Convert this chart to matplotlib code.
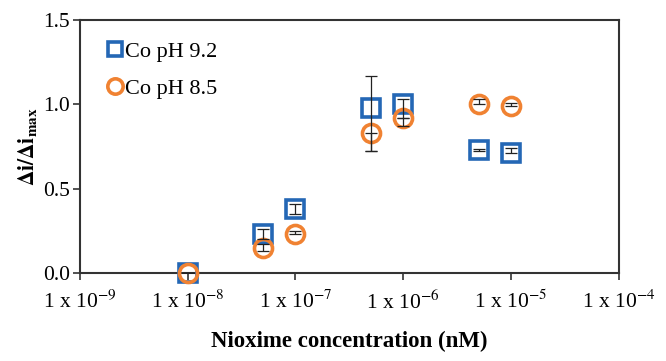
import matplotlib
matplotlib.use("Agg")
import matplotlib.pyplot as plt
import numpy as np

plt.rcParams['font.family'] = ['Liberation Serif', 'DejaVu Serif']
plt.rcParams['mathtext.fontset'] = 'stix'

conc = [1e-8, 5e-8, 1e-7, 5e-7, 1e-6, 5e-6, 1e-5]

ph92 = [0.0, 0.23, 0.38, 0.98, 1.00, 0.73, 0.71]
ph92_err_lo = [0.0, 0.03, 0.03, 0.26, 0.13, 0.005, 0.0]
ph92_err_hi = [0.0, 0.03, 0.03, 0.19, 0.03, 0.005, 0.03]

ph85 = [0.0, 0.15, 0.23, 0.83, 0.92, 1.00, 0.99]
ph85_err_lo = [0.0, 0.02, 0.0, 0.11, 0.0, 0.0, 0.0]
ph85_err_hi = [0.0, 0.02, 0.02, 0.0, 0.0, 0.03, 0.02]

labels = ["Co pH 9.2", "Co pH 8.5"]
xticks = [1e-9, 1e-8, 1e-7, 1e-6, 1e-5, 1e-4]
xticklabels = [r"1 x 10$^{-9}$", r"1 x 10$^{-8}$", r"1 x 10$^{-7}$",
               r"1 x 10$^{-6}$", r"1 x 10$^{-5}$", r"1 x 10$^{-4}$"]
yticks = [0.0, 0.5, 1.0, 1.5]

blue = '#2467B5'
orange = '#F08232'

fig = plt.figure(figsize=(6.66, 3.61), dpi=100)
ax = fig.add_axes([0.120, 0.244, 0.809, 0.701])
ax.set_xscale('log')

ax.plot(conc, ph92, linestyle='none', marker='s', markersize=12.5,
        markerfacecolor='none', markeredgecolor=blue, markeredgewidth=2.6,
        label=labels[0], zorder=3, clip_on=False)
ax.plot(conc, ph85, linestyle='none', marker='o', markersize=13,
        markerfacecolor='none', markeredgecolor=orange, markeredgewidth=2.6,
        label=labels[1], zorder=4, clip_on=False)
ax.errorbar(conc, ph92, yerr=[ph92_err_lo, ph92_err_hi], fmt='none',
            ecolor='#222222', elinewidth=0.9, capsize=4, capthick=0.9, zorder=5)
ax.errorbar(conc, ph85, yerr=[ph85_err_lo, ph85_err_hi], fmt='none',
            ecolor='#222222', elinewidth=0.9, capsize=4, capthick=0.9, zorder=5)

ax.set_xlim(1e-9, 1e-4)
ax.set_ylim(0, 1.5)
ax.set_xticks(xticks)
ax.set_xticklabels(xticklabels)
ax.xaxis.set_minor_locator(matplotlib.ticker.NullLocator())
ax.set_yticks(yticks)
ax.set_yticklabels([f"{v:.1f}" for v in yticks])
ax.tick_params(axis='both', labelsize=15.5, direction='out', length=5,
               width=1.2, color='#333333')
ax.tick_params(axis='x', pad=8)
ax.tick_params(axis='y', pad=2)
for s in ax.spines.values():
    s.set_color('#333333')
    s.set_linewidth(1.5)

ax.set_xlabel("Nioxime concentration (nM)", fontsize=16.5, fontweight='bold',
              labelpad=12)
ax.set_ylabel(r"$\mathbf{\Delta i/\Delta i_{max}}$", fontsize=15.5, labelpad=2)

leg = ax.legend(loc='upper left', frameon=False, fontsize=16,
                handletextpad=0.0, handlelength=0.9, labelspacing=0.75,
                borderaxespad=0.0, bbox_to_anchor=(0.03, 0.95),
                markerscale=0.85)

fig.savefig("out.png", dpi=100)
